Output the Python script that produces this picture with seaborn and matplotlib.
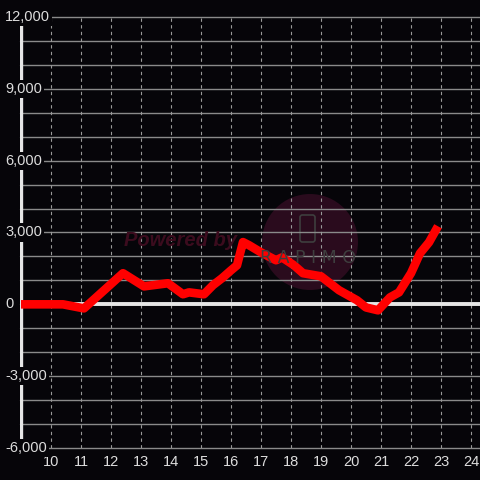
import matplotlib
matplotlib.use("Agg")
import matplotlib.pyplot as plt
import matplotlib.transforms as mtransforms
from matplotlib.patches import Circle, FancyBboxPatch
import seaborn as sns

# data
hours = [9.0, 10.4, 11.1, 12.4, 13.1, 13.9, 14.4, 14.6, 15.1, 15.4, 15.7, 16.0,
         16.2, 16.4, 16.6, 17.0, 17.5, 17.7, 18.1, 18.4, 19.0, 19.3, 19.6, 20.2,
         20.5, 20.9, 21.3, 21.6, 22.0, 22.3, 22.6, 22.9]
values = [0, 0, -170, 1300, 750, 880, 420, 500, 420, 800, 1090, 1420,
          1630, 2600, 2470, 2170, 1840, 1960, 1630, 1300, 1170, 880, 590, 170,
          -130, -250, 290, 500, 1300, 2130, 2590, 3260]
x_ticks = list(range(10, 25))
y_ticks = [12000, 9000, 6000, 3000, 0, -3000, -6000]
y_grid = list(range(-6000, 12001, 1000))

sns.set_theme(style="dark")
plt.rcParams["font.family"] = ["Liberation Sans", "DejaVu Sans"]

bg = "#060509"
fig = plt.figure(figsize=(4.8, 4.8), dpi=100, facecolor=bg)
ax = fig.add_axes([20 / 480, 32 / 480, 460 / 480, 431 / 480])
ax.set_facecolor(bg)
for s in ax.spines.values():
    s.set_visible(False)

# watermark
ax.add_patch(Circle((310 / 480, 1 - 242 / 480), 48 / 480, transform=fig.transFigure,
                    facecolor="#2a0b1d", edgecolor="none", zorder=0.2))
ax.add_patch(FancyBboxPatch((300 / 480, 1 - 242 / 480), 15 / 480, 27 / 480,
                            boxstyle="round,pad=0,rounding_size=0.005",
                            transform=fig.transFigure, facecolor="none",
                            edgecolor="#3e3e3e", lw=1.2, zorder=0.25))
fig.text(180 / 480, 1 - 241 / 480, "Powered by", color="#3c0c1e", fontsize=14.5,
         fontweight="bold", fontstyle="italic", ha="center", va="center", zorder=0.3)
fig.text(308 / 480, 1 - 258 / 480, "R A P I M O", color="#3e3e3e", fontsize=12.5,
         fontfamily="DejaVu Sans", ha="center", va="center")

# grid
for v in y_grid:
    ax.axhline(v, color="#8a8a8a", lw=1.0, zorder=0.5, clip_on=False)
for v in x_ticks:
    ax.axvline(v, color="#9a9a9a", lw=0.8, ls=(0, (3, 3)), zorder=0.5)

# axis lines
ax.axvline(9.0, color="#e6e6e6", lw=2.4, zorder=1)
ax.axhline(0, color="#e6e6e6", lw=2.8, zorder=1.2)

sns.lineplot(x=hours, y=values, ax=ax, color="#ff0000", lw=6.2, zorder=3,
             solid_joinstyle="round", solid_capstyle="butt")

ax.set_xlim(8.967, 24.3)
ax.set_ylim(-6000, 12000)
ax.set_xticks(x_ticks)
ax.set_xticklabels([str(t) for t in x_ticks])
ax.set_yticks([])
ax.tick_params(axis="x", colors="#dddddd", labelsize=10.5, length=0, pad=5)
ax.grid(False)
ax.set_xlabel("")
ax.set_ylabel("")

trans = mtransforms.blended_transform_factory(fig.transFigure, ax.transData)
for v in y_ticks:
    ax.text(5 / 480, v, f"{v:,}", transform=trans, ha="left", va="center",
            color="#dddddd", fontsize=10.5, zorder=5, clip_on=False,
            bbox=dict(facecolor=bg, edgecolor="none", pad=1.5))

fig.savefig("out.png", dpi=100, facecolor=bg)
